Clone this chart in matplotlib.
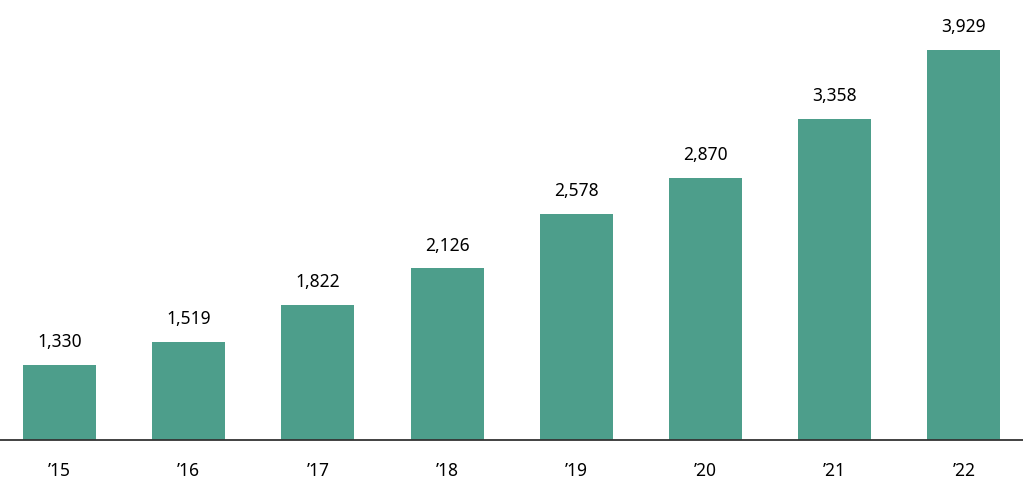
import matplotlib
matplotlib.use("Agg")
import matplotlib.pyplot as plt

plt.rcParams["font.family"] = ["Noto Sans", "DejaVu Sans"]

years = ["\u201915", "\u201916", "\u201917", "\u201918", "\u201919", "\u201920", "\u201921", "\u201922"]
values = [1330, 1519, 1822, 2126, 2578, 2870, 3358, 3929]

BAR_COLOR = "#4d9e8b"

fig = plt.figure(figsize=(10.23, 4.88), dpi=100)
ax = fig.add_axes([0, 48 / 488, 1, 440 / 488])

x = range(len(values))
ax.bar(x, values, width=0.565, color=BAR_COLOR)

for i, v in enumerate(values):
    ax.annotate("{:,}".format(v), (i, v), xytext=(0, 10), textcoords="offset points",
                ha="center", va="bottom", fontsize=12.5, color="#000000")

ax.set_xlim(-0.46, 7.457)
ax.set_ylim(711, 4341)

ax.set_xticks(list(x))
ax.set_xticklabels(years, fontsize=12.5, color="#000000")
ax.tick_params(axis="x", length=0, pad=16)
ax.set_yticks([])

for side in ["top", "right", "left"]:
    ax.spines[side].set_visible(False)
ax.spines["bottom"].set_color("#333333")
ax.spines["bottom"].set_linewidth(1.3)

fig.savefig("out.png", dpi=100)
